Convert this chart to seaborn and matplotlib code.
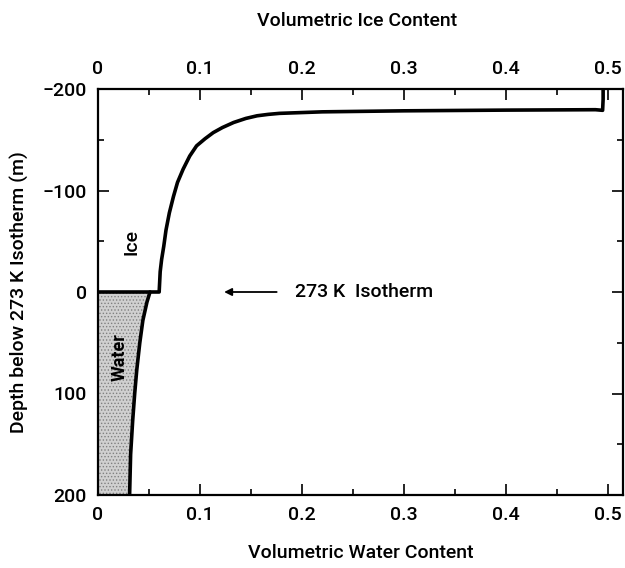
import numpy as np
import pandas as pd
import seaborn as sns
import matplotlib.pyplot as plt
from matplotlib.ticker import MultipleLocator

# Values
ice_depth = [0, 0, -20, -32, -45, -61, -78, -94, -108, -121, -134, -144, -151, -157, -162,
             -167, -171, -173.6, -175, -176, -177.5, -178.5, -179.2, -179.6, -179.0, -190, -200]
ice_frac = [0.0, 0.060, 0.061, 0.0624, 0.0645, 0.0667, 0.070, 0.074, 0.078, 0.0835, 0.090,
            0.0967, 0.105, 0.113, 0.122, 0.133, 0.145, 0.156, 0.167, 0.178, 0.22, 0.30, 0.40,
            0.488, 0.495, 0.4955, 0.4955]

water_depth = [0, 10, 28, 50, 77, 100, 127, 160, 200]
water_frac = [0.051, 0.048, 0.044, 0.041, 0.038, 0.036, 0.034, 0.032, 0.031]

x_ticks = [0, 0.1, 0.2, 0.3, 0.4, 0.5]
x_ticklabels = ['0', '0.1', '0.2', '0.3', '0.4', '0.5']
y_ticks = [-200, -100, 0, 100, 200]

df_ice = pd.DataFrame({'frac': ice_frac, 'depth': ice_depth})
df_water = pd.DataFrame({'frac': water_frac, 'depth': water_depth})

sns.set_style('ticks')
plt.rcParams['font.family'] = ['Roboto', 'DejaVu Sans']
plt.rcParams['font.weight'] = 'medium'
plt.rcParams['axes.labelweight'] = 'medium'
plt.rcParams['text.color'] = 'black'
plt.rcParams['axes.labelcolor'] = 'black'
plt.rcParams['xtick.color'] = 'black'
plt.rcParams['ytick.color'] = 'black'
plt.rcParams['axes.edgecolor'] = 'black'
plt.rcParams['hatch.linewidth'] = 0.6
fs = 14

fig = plt.figure(figsize=(6.25, 5.68), dpi=100)
ax = fig.add_axes([98 / 625, 1 - 495 / 568, (623 - 98) / 625, (495 - 89) / 568])

# water shading
ax.fill_betweenx(water_depth, 0, water_frac, facecolor='#d0d0d0', edgecolor='#808080',
                 hatch='.....', linewidth=0)

sns.lineplot(data=df_ice, x='frac', y='depth', sort=False, estimator=None, color='black',
             linewidth=2.6, ax=ax)
sns.lineplot(data=df_water, x='frac', y='depth', sort=False, estimator=None, color='black',
             linewidth=2.6, ax=ax)

ax.set_xlim(0, 0.515)
ax.set_ylim(200, -200)

ax.set_xticks(x_ticks)
ax.set_xticklabels(x_ticklabels)
ax.set_yticks(y_ticks)
ax.xaxis.set_minor_locator(MultipleLocator(0.05))
ax.yaxis.set_minor_locator(MultipleLocator(50))
ax.tick_params(which='both', direction='in', top=True, right=True, labeltop=True,
               width=1.2, labelsize=fs)
ax.tick_params(which='major', length=8, pad=8)
ax.tick_params(which='minor', length=4)
for s in ax.spines.values():
    s.set_linewidth(1.6)

ax.set_xlabel('Volumetric Water Content', fontsize=fs, labelpad=14)
ax.set_ylabel('Depth below 273 K Isotherm (m)', fontsize=fs, labelpad=10)
fig.text(ax.get_position().x0 + ax.get_position().width / 2 - 0.005, 1 - 21 / 568,
         'Volumetric Ice Content', fontsize=fs, ha='center', va='center')

ax.text(0.033, -49, 'Ice', rotation=90, fontsize=fs, ha='center', va='center')
ax.text(0.021, 64, 'Water', rotation=90, fontsize=fs - 1, fontweight='bold',
        ha='center', va='center')

ax.annotate('', xy=(0.121, 0), xytext=(0.178, 0),
            arrowprops=dict(arrowstyle='-|>', color='black', lw=1.3, mutation_scale=11))
ax.text(0.193, 0, '273 K  Isotherm', fontsize=fs, ha='left', va='center')

fig.savefig('out.png', dpi=100)
